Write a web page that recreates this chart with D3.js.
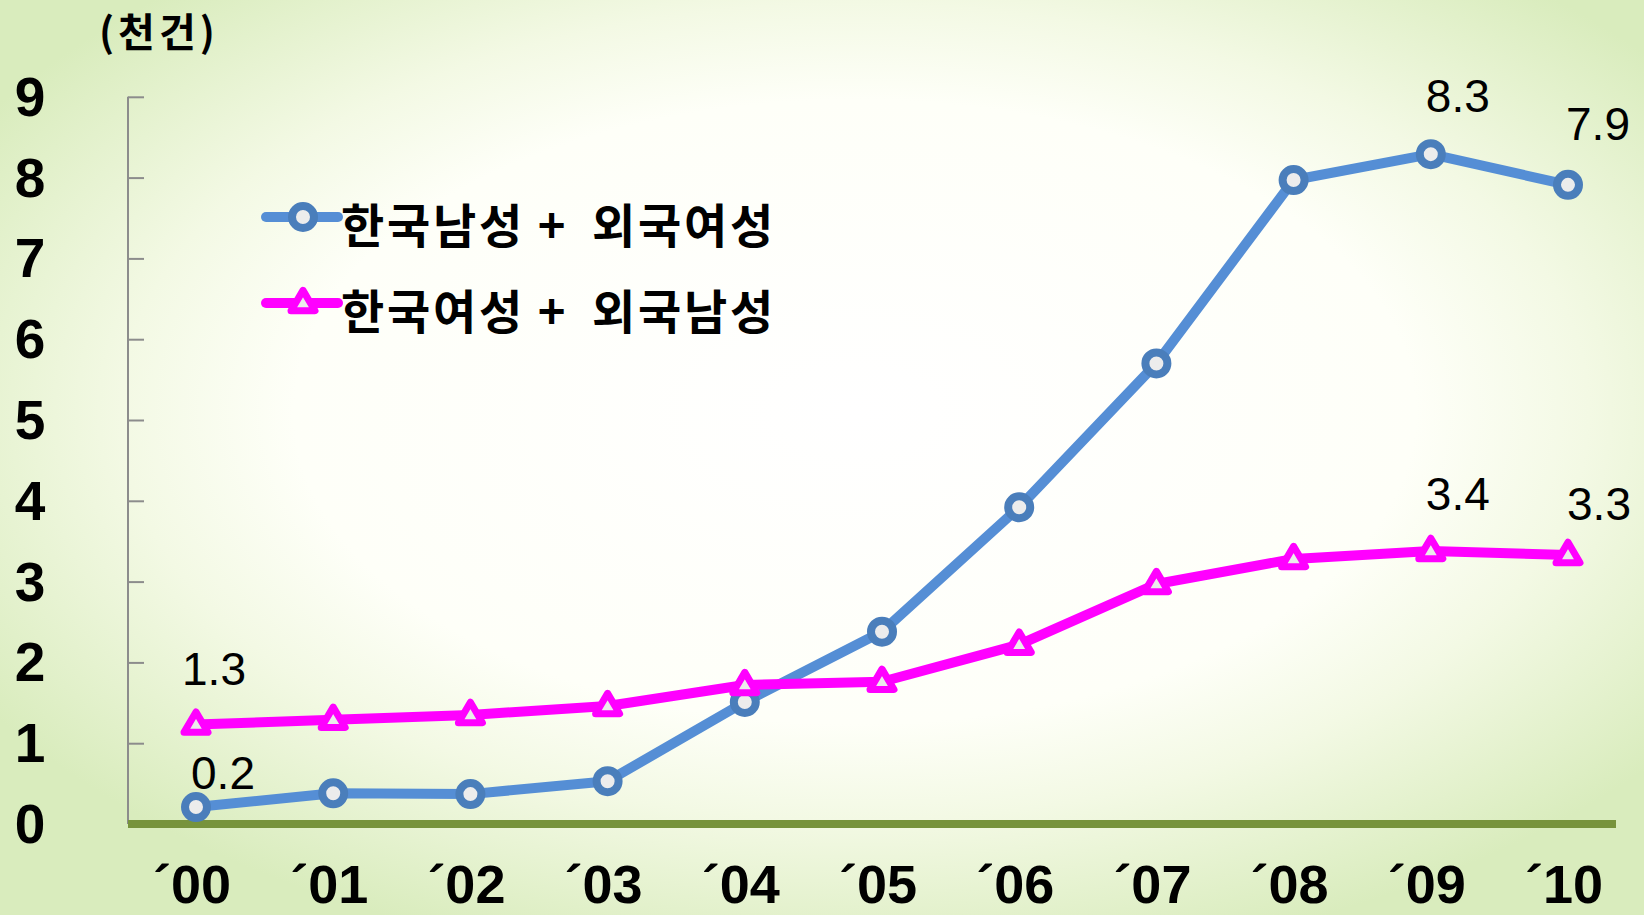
<!DOCTYPE html>
<html><head><meta charset="utf-8">
<script src="https://cdn.jsdelivr.net/npm/d3@7"></script>
<style>html,body{margin:0;padding:0;background:#fff}svg{display:block}</style>
</head><body>
<script>
const years = ["00","01","02","03","04","05","06","07","08","09","10"];
const seriesNames = ["한국남성 + 외국여성", "한국여성 + 외국남성"];
const koreanMaleForeignFemale = [0.21, 0.38, 0.37, 0.53, 1.51, 2.38, 3.92, 5.7, 7.97, 8.29, 7.91];
const koreanFemaleForeignMale = [1.23, 1.29, 1.35, 1.46, 1.72, 1.76, 2.22, 2.97, 3.28, 3.38, 3.33];
const yTicks = [0,1,2,3,4,5,6,7,8,9];
const unitLabel = "(천건)";
// value labels: [series index, year index, text]
const valueLabels = [[0,0,"0.2"],[1,0,"1.3"],[0,9,"8.3"],[0,10,"7.9"],[1,9,"3.4"],[1,10,"3.3"]];
const labelNudge = [[27,-18],[18,-40],[27,-42],[30,-45],[27,-41],[31,-35]];

const W = 1644, H = 915;
const svg = d3.select("body").append("svg").attr("width", W).attr("height", H);
const defs = svg.append("defs");
const rg = defs.append("radialGradient").attr("id","bg")
  .attr("cx","0.52").attr("cy","0.45").attr("r","0.62").attr("fx","0.52").attr("fy","0.45");
rg.append("stop").attr("offset","0").attr("stop-color","#ffffff");
rg.append("stop").attr("offset","0.55").attr("stop-color","#fefff8");
rg.append("stop").attr("offset","0.72").attr("stop-color","#f3f9e4");
rg.append("stop").attr("offset","1").attr("stop-color","#d9ecbd");
svg.append("rect").attr("width",W).attr("height",H).attr("fill","url(#bg)");

const x = d3.scalePoint().domain(years).range([196, 1568]);
const y = d3.scaleLinear().domain([0, 9]).range([824, 96.8]);

// y axis
const yAxis = svg.append("g").attr("transform","translate(128,0)")
  .call(d3.axisRight(y).tickValues(yTicks).tickSize(16).tickFormat(""));
yAxis.select(".domain").attr("stroke","#8c8c8c").attr("stroke-width",2).attr("d","M0,"+y(9)+"V"+y(0));
yAxis.selectAll(".tick line").attr("stroke","#8c8c8c").attr("stroke-width",2);

svg.append("g").selectAll("text").data(yTicks).join("text")
  .attr("x", 30).attr("y", d => y(d)).attr("text-anchor","middle").attr("dominant-baseline","central")
  .attr("font-family","Liberation Sans, Arial, sans-serif").attr("font-weight","bold")
  .attr("font-size",55).attr("fill","#000").text(d => d);

// baseline
svg.append("line").attr("x1",128).attr("x2",1616).attr("y1",y(0)).attr("y2",y(0))
  .attr("stroke","#77933c").attr("stroke-width",8);

// x labels
svg.append("g").selectAll("text").data(years).join("text")
  .attr("x", d => x(d) - 4).attr("y", 903).attr("text-anchor","middle")
  .attr("font-family","Liberation Sans, Arial, sans-serif").attr("font-weight","bold")
  .attr("font-size",54).attr("fill","#000").text(d => "´" + d);

// unit label
svg.append("text").attr("x",99).attr("y",30).attr("dominant-baseline","central")
  .attr("font-family","Noto Sans CJK KR, sans-serif").attr("font-weight","bold")
  .attr("letter-spacing",4)
  .attr("font-size",40).attr("fill","#000").text(unitLabel);

const colors = ["#558ed5", "#ff00ff"];
const markerStroke = ["#4a7ebb", "#ff00ff"];
const data = [koreanMaleForeignFemale, koreanFemaleForeignMale];
const line = d3.line().x((d,i) => x(years[i])).y(d => y(d));

const triPath = (cx, cy, s) => {
  const h = s * 0.85;
  return `M${cx},${cy - h*0.62}L${cx + s/2},${cy + h*0.38}L${cx - s/2},${cy + h*0.38}Z`;
};

function drawMarker(g, k, cx, cy) {
  if (k === 0) {
    g.append("circle").attr("cx",cx).attr("cy",cy).attr("r",11)
      .attr("fill","#ececec").attr("stroke",markerStroke[0]).attr("stroke-width",8);
  } else {
    g.append("path").attr("d", triPath(cx, cy, 24))
      .attr("fill","#ececec").attr("stroke",markerStroke[1]).attr("stroke-width",7)
      .attr("stroke-linejoin","round");
  }
}

data.forEach((vals, k) => {
  const g = svg.append("g");
  g.append("path").datum(vals).attr("d", line).attr("fill","none")
    .attr("stroke", colors[k]).attr("stroke-width",10).attr("stroke-linejoin","round");
  vals.forEach((v,i) => drawMarker(g, k, x(years[i]), y(v)));
});

// value labels
svg.append("g").selectAll("text").data(valueLabels).join("text")
  .attr("x", (d,i) => x(years[d[1]]) + labelNudge[i][0])
  .attr("y", (d,i) => y(data[d[0]][d[1]]) + labelNudge[i][1])
  .attr("text-anchor","middle")
  .attr("font-family","Liberation Sans, Arial, sans-serif")
  .attr("font-size",46).attr("fill","#000").text(d => d[2]);

// legend
const legY = [217, 303];
seriesNames.forEach((name, k) => {
  const g = svg.append("g");
  g.append("line").attr("x1",266).attr("x2",338).attr("y1",legY[k]).attr("y2",legY[k])
    .attr("stroke",colors[k]).attr("stroke-width",10).attr("stroke-linecap","round");
  drawMarker(g, k, 303, legY[k]);
  const parts = name.split(" + ");
  const tf = t => t.attr("y", legY[k] + 5).attr("dominant-baseline","central")
    .attr("font-family","Noto Sans CJK KR, sans-serif").attr("font-weight","bold")
    .attr("font-size",47).attr("letter-spacing",2.8).attr("fill","#000");
  tf(g.append("text").attr("x",341).text(parts[0]));
  tf(g.append("text").attr("x",553).attr("text-anchor","middle").attr("letter-spacing",0).text("+"));
  tf(g.append("text").attr("x",592).text(parts[1]));
});
</script>
</body></html>
